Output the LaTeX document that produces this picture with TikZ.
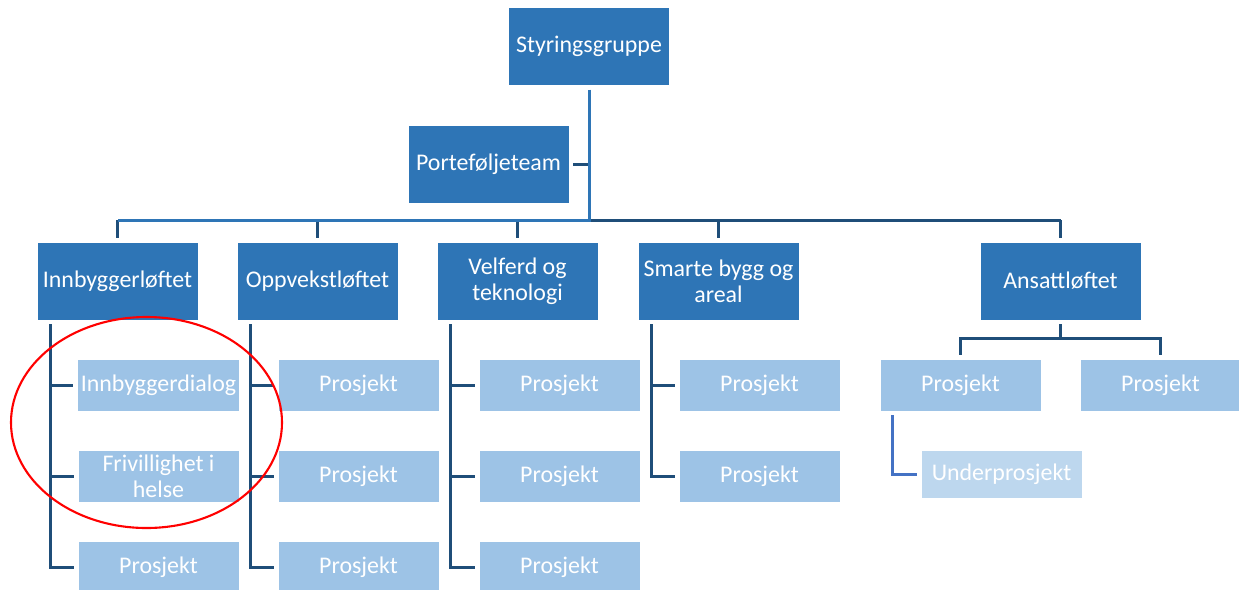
\documentclass[tikz,border=0pt]{standalone}
\usepackage{fontspec}
\setmainfont{Carlito}
\usepackage{tikz}
\usetikzlibrary{calc}

\begin{document}
\begin{tikzpicture}[x=0.02cm,y=-0.02cm,
  lead/.style={draw=white,line width=.5pt,fill=leadblue,text=white,align=center,inner sep=2pt,outer sep=2.3pt,font=\fontsize{13.6}{14.6}\selectfont,minimum width=3.22cm,minimum height=1.56cm},
  proj/.style={lead,fill=projblue,minimum height=1.04cm},
  subproj/.style={proj,fill=subblue,minimum height=.96cm},
  link/.style={draw=linknavy,line width=1.7pt},
  mainlink/.style={draw=leadblue,line width=1.7pt},
  sublink/.style={draw=subline,line width=1.7pt}]
\definecolor{leadblue}{RGB}{46,117,182}
\definecolor{projblue}{RGB}{157,195,230}
\definecolor{subblue}{RGB}{189,215,238}
\definecolor{linknavy}{RGB}{31,78,121}
\definecolor{subline}{RGB}{68,114,196}
\useasboundingbox (0,0) rectangle (1239,589);
\node[lead] (sg) at (589,46.5) {Styringsgruppe};
\node[lead] (pt) at (488.5,164) {Porteføljeteam};
\coordinate (bus) at (589,220);
\node[lead] (inn) at (117.5,281) {Innbyggerløftet};
\node[lead] (opp) at (317.5,281) {Oppvekstløftet};
\node[lead] (vel) at (517.5,281) {Velferd og\\teknologi};
\node[lead] (sma) at (718.5,281) {Smarte bygg og\\areal};
\node[lead] (ans) at (1060.5,281) {Ansattløftet};
% top level
\draw[link] (pt.east) -- (pt.east -| bus);
\draw[link] (bus) -- (ans.north |- bus);
\foreach \n in {inn,opp,vel,sma,ans} \draw[link] (\n.north |- bus) -- (\n.north);
\draw[mainlink] (sg.south) -- (bus) -- (inn.north |- bus);
% projects
\node[proj] (i1) at (158.5,385) {Innbyggerdialog};
\node[proj] (i2) at (158.5,476) {Frivillighet i\\helse};
\node[proj] (i3) at (158.5,567) {Prosjekt};
\node[proj] (o1) at (358.5,385) {Prosjekt};
\node[proj] (o2) at (358.5,476) {Prosjekt};
\node[proj] (o3) at (358.5,567) {Prosjekt};
\node[proj] (v1) at (559.5,385) {Prosjekt};
\node[proj] (v2) at (559.5,476) {Prosjekt};
\node[proj] (v3) at (559.5,567) {Prosjekt};
\node[proj] (s1) at (759.5,385) {Prosjekt};
\node[proj] (s2) at (759.5,476) {Prosjekt};
\node[proj] (a1) at (960.5,385) {Prosjekt};
\node[proj] (a2) at (1160.5,385) {Prosjekt};
\node[subproj] (u1) at (1001.5,474) {Underprosjekt};
\draw[link] ($(inn.south west)+(18,0)$) |- (i1.west); \draw[link] ($(inn.south west)+(18,0)$) |- (i2.west); \draw[link] ($(inn.south west)+(18,0)$) |- (i3.west);
\draw[link] ($(opp.south west)+(18,0)$) |- (o1.west); \draw[link] ($(opp.south west)+(18,0)$) |- (o2.west); \draw[link] ($(opp.south west)+(18,0)$) |- (o3.west);
\draw[link] ($(vel.south west)+(18,0)$) |- (v1.west); \draw[link] ($(vel.south west)+(18,0)$) |- (v2.west); \draw[link] ($(vel.south west)+(18,0)$) |- (v3.west);
\draw[link] ($(sma.south west)+(18,0)$) |- (s1.west); \draw[link] ($(sma.south west)+(18,0)$) |- (s2.west);
\draw[link] (ans.south) -- ++(0,14) -| (a1.north);
\draw[link] (ans.south) -- ++(0,14) -| (a2.north);
\draw[sublink] ($(a1.south west)+(17,0)$) |- (u1.west);
% highlight
\draw[red,line width=1.2pt] (146.5,422.5) ellipse [x radius=135.5,y radius=105.5];
\end{tikzpicture}
\end{document}
